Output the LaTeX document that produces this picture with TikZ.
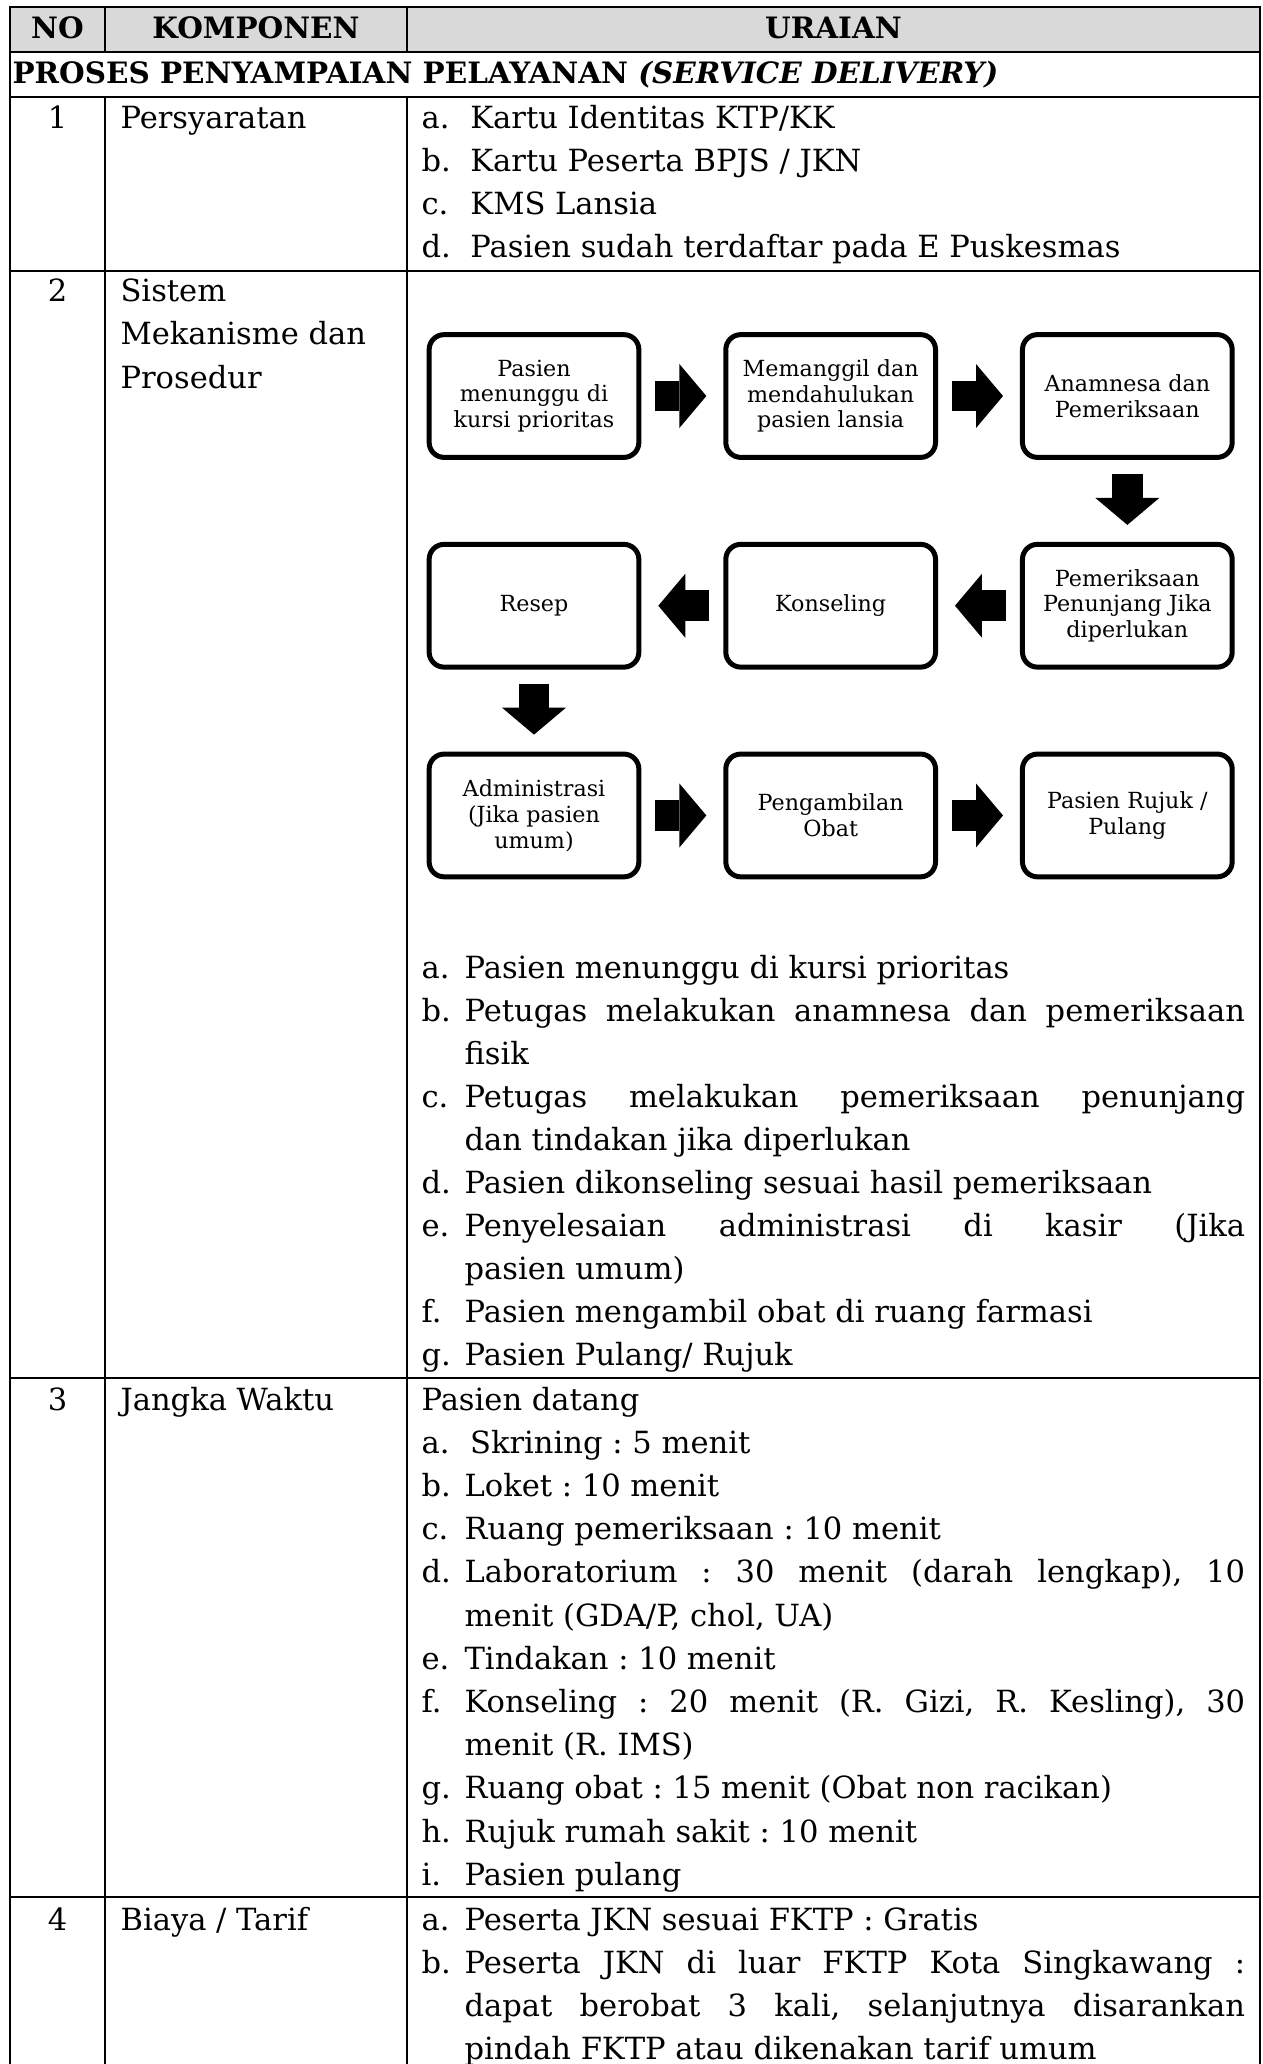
\documentclass[tikz,border=0pt]{standalone}
\usepackage{fontspec}
\setmainfont{DejaVu Serif}
\usetikzlibrary{arrows.meta,positioning}

\definecolor{abu}{HTML}{D9D9D9}
\newcommand{\rata}[1]{\makebox[281pt][s]{#1}}
\frenchspacing

\tikzset{
  teks/.style={anchor=base west, inner sep=0pt, font=\fontsize{11}{13}\selectfont},
  kepala/.style={anchor=base, inner sep=0pt, font=\fontsize{10.6}{13}\selectfont\bfseries},
  langkah/.style={draw, line width=1.8pt, rounded corners=5.4pt, minimum width=75.5pt,
    minimum height=44.2pt, align=center, inner sep=2pt, font=\fontsize{8}{9.3}\selectfont},
  panah/.style={-{Triangle[length=9.7pt,width=23pt,line width=0pt]}, line width=11pt,
    shorten <=5pt, shorten >=6.1pt},
  garis/.style={line width=0.8pt}
}

\begin{document}
\begin{tikzpicture}[x=0.36pt, y=-0.36pt, node distance=29.5pt]
    \useasboundingbox (0,0) rectangle (1263,2064);

    % tabel
    \fill[abu] (10,7) rectangle (1260,52);
    \draw[garis] (10,2064) -- (10,7) -- (1260,7) -- (1260,2064);
    \foreach \y in {52,97,271,1378,1897}
      \draw[garis] (10,\y) -- (1260,\y);
    \foreach \x in {105,407} {
      \draw[garis] (\x,7) -- (\x,52);
      \draw[garis] (\x,97) -- (\x,2064);
    }

    \node[kepala] (no) at (57.5,38) {NO};
    \node[kepala] (komponen) at (256,38) {KOMPONEN};
    \node[kepala] (uraian) at (833.5,38) {URAIAN};
    \node[kepala, anchor=base west] (proses) at (12,83) {PROSES PENYAMPAIAN PELAYANAN \textit{(SERVICE DELIVERY)}};

    \foreach \n/\y in {1/128,2/301,3/1410,4/1930}
      \node[teks, anchor=base] (no\n) at (57.5,\y) {\n};
    \node[teks] (syarat) at (120,128) {Persyaratan};
    \node[teks] (sistem) at (120,301) {Sistem};
    \node[teks] (mekanisme) at (120,344) {Mekanisme dan};
    \node[teks] (prosedur) at (120,388) {Prosedur};
    \node[teks] (jangka) at (120,1410) {Jangka Waktu};
    \node[teks] (biaya) at (120,1930) {Biaya / Tarif};

    % uraian
    \foreach \lab/\isi [count=\i from 0] in {a./{Kartu Identitas KTP/KK}, b./{Kartu Peserta BPJS / JKN},
        c./KMS Lansia, d./Pasien sudah terdaftar pada E Puskesmas}
      \node[teks] (persyaratan\i) at (421,128+43*\i) {\makebox[17.6pt][l]{\lab}\isi};

    \node[langkah] (p1) at (534,396) {Pasien\\menunggu di\\kursi prioritas};
    \node[langkah, right=of p1] (p2) {Memanggil dan\\mendahulukan\\pasien lansia};
    \node[langkah, right=of p2] (p3) {Anamnesa dan\\Pemeriksaan};
    \node[langkah, below=of p3] (p4) {Pemeriksaan\\Penunjang Jika\\diperlukan};
    \node[langkah, left=of p4] (p5) {Konseling};
    \node[langkah, left=of p5] (p6) {Resep};
    \node[langkah, below=of p6] (p7) {Administrasi\\(Jika pasien\\umum)};
    \node[langkah, right=of p7] (p8) {Pengambilan\\Obat};
    \node[langkah, right=of p8] (p9) {Pasien Rujuk /\\Pulang};
    \foreach \a/\b in {p1/p2,p2/p3,p3/p4,p4/p5,p5/p6,p6/p7,p7/p8,p8/p9}
      \draw[panah] (\a) -- (\b);

    \foreach \lab/\isi [count=\i from 0] in {a./Pasien menunggu di kursi prioritas,
        b./\rata{Petugas melakukan anamnesa dan pemeriksaan}, /fisik,
        c./\rata{Petugas melakukan pemeriksaan penunjang}, /dan tindakan jika diperlukan,
        d./Pasien dikonseling sesuai hasil pemeriksaan,
        e./\rata{Penyelesaian administrasi di kasir (Jika}, /pasien umum),
        f./Pasien mengambil obat di ruang farmasi, g./{Pasien Pulang/ Rujuk}}
      \node[teks] (prosedur\i) at (421,978+43.1*\i) {\makebox[15.5pt][l]{\lab}\isi};

    \node[teks] (datang) at (421,1410) {Pasien datang};
    \foreach \lab/\isi [count=\i from 1] in {a./\hspace{2pt}Skrining : 5 menit, b./Loket : 10 menit,
        c./Ruang pemeriksaan : 10 menit, d./\rata{Laboratorium : 30 menit (darah lengkap), 10},
        /{menit (GDA/P, chol, UA)}, e./Tindakan : 10 menit,
        f./\rata{Konseling : 20 menit (R. Gizi, R. Kesling), 30}, /menit (R. IMS),
        g./Ruang obat : 15 menit (Obat non racikan), h./Rujuk rumah sakit : 10 menit,
        i./Pasien pulang}
      \node[teks] (waktu\i) at (421,1410+43.2*\i) {\makebox[15.5pt][l]{\lab}\isi};

    \foreach \lab/\isi [count=\i from 0] in {a./Peserta JKN sesuai FKTP : Gratis,
        b./\rata{Peserta JKN di luar FKTP Kota Singkawang :},
        /\rata{dapat berobat 3 kali, selanjutnya disarankan},
        /pindah FKTP atau dikenakan tarif umum}
      \node[teks] (tarif\i) at (421,1930+43*\i) {\makebox[15.5pt][l]{\lab}\isi};
\end{tikzpicture}
\end{document}
